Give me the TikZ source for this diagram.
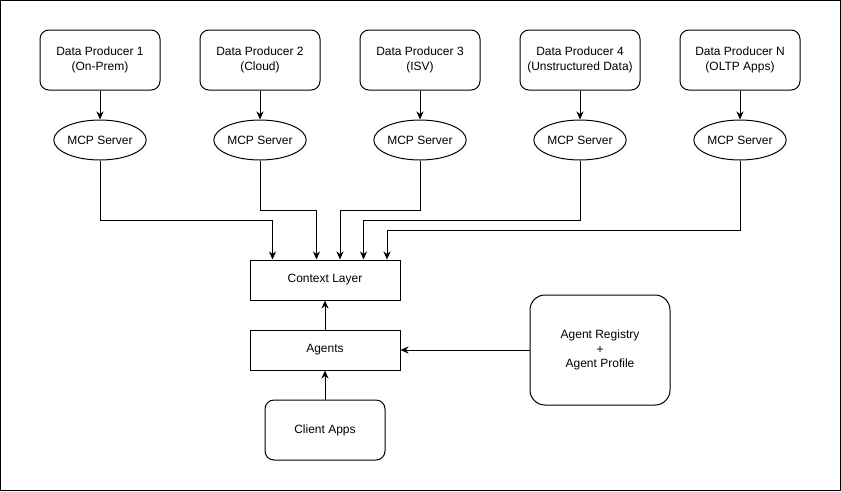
\documentclass[tikz,border=0pt]{standalone}
\usepackage{fontspec}
\setmainfont{Liberation Sans}
\usepackage{tikz}
\usetikzlibrary{arrows.meta,positioning,shapes.geometric}

\begin{document}
\begin{tikzpicture}[x=1pt, y=-1pt, line width=1pt,
    every node/.style={font=\fontsize{12}{14.5}\selectfont, align=center},
    producer/.style={draw, rounded corners=9pt, minimum width=120pt, minimum height=60pt, inner sep=0pt},
    server/.style={draw, ellipse, minimum width=80pt, minimum height=40pt, inner sep=0pt},
    layer/.style={draw, minimum width=150pt, minimum height=40pt, inner sep=0pt},
    arr/.style={-{Stealth[length=8pt, width=7pt, inset=2.5pt]}}]
  \useasboundingbox (0,0) rectangle (841,491);
  \draw (0.5,0.5) rectangle (840.5,490.5);

  % --- Producers and their MCP servers ---
  \node[producer] (p1) at (100,60) {Data Producer 1\\(On-Prem)};
  \node[producer] (p2) at (260,60) {Data Producer 2\\(Cloud)};
  \node[producer] (p3) at (420,60) {Data Producer 3\\(ISV)};
  \node[producer] (p4) at (580,60) {Data Producer 4\\(Unstructured Data)};
  \node[producer] (p5) at (740,60) {Data Producer N\\(OLTP Apps)};

  \node[server] (m1) at (100,140) {MCP Server};
  \node[server] (m2) at (260,140) {MCP Server};
  \node[server] (m3) at (420,140) {MCP Server};
  \node[server] (m4) at (580,140) {MCP Server};
  \node[server] (m5) at (740,140) {MCP Server};

  \draw[arr] (p1.south) -- (m1.north);
  \draw[arr] (p2.south) -- (m2.north);
  \draw[arr] (p3.south) -- (m3.north);
  \draw[arr] (p4.south) -- (m4.north);
  \draw[arr] (p5.south) -- (m5.north);

  % --- Core stack ---
  \node[layer] (ctx) at (325,280) {Context Layer};
  \node[layer] (agents) at (325,350) {Agents};
  \node[producer] (client) at (325,430) {Client Apps};
  \node[draw, rounded corners=15pt, minimum width=140pt, minimum height=110pt, inner sep=0pt]
    (registry) at (600,350) {Agent Registry\\+\\Agent Profile};

  % --- Servers feed the context layer ---
  \draw[arr] (m1.south) |- ++(172.5,60) -- ([xshift=-52.5pt]ctx.north);
  \draw[arr] (m2.south) |- ++(56.5,50) -- ([xshift=-8.5pt]ctx.north);
  \draw[arr] (m3.south) |- ++(-80,50) -- ([xshift=15pt]ctx.north);
  \draw[arr] (m4.south) |- ++(-216.5,60) -- ([xshift=38.5pt]ctx.north);
  \draw[arr] (m5.south) |- ++(-353,70) -- ([xshift=62pt]ctx.north);

  \draw[arr] (agents.north) -- (ctx.south);
  \draw[arr] (client.north) -- (agents.south);
  \draw[arr] (registry.west) -- (agents.east);
\end{tikzpicture}
\end{document}
